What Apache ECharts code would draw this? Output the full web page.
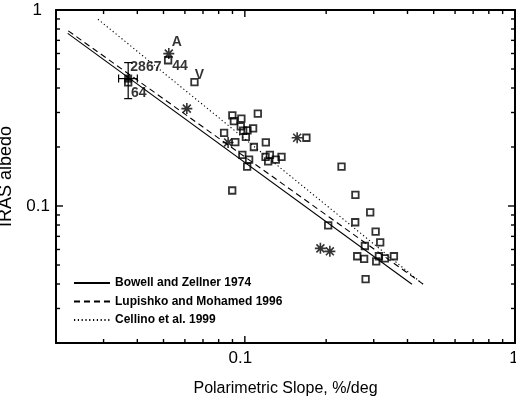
<!DOCTYPE html>
<html>
<head>
<meta charset="utf-8">
<script src="https://cdn.jsdelivr.net/npm/echarts@6/dist/echarts.min.js"></script>
<style>
html,body{margin:0;padding:0;background:#fff;}
#chart{width:516px;height:398px;}
</style>
</head>
<body>
<div id="chart"></div>
<script>
// ---- data ----
const axisMin = 0.02, axisMax = 1;
const xLabelValues = [0.1, 1];
const yLabelValues = [0.1, 1];
const xMajorTicks = [0.1, 1];
const xMinorTicks = [0.03,0.04,0.05,0.06,0.07,0.08,0.09,0.2,0.3,0.4,0.5,0.6,0.7,0.8,0.9];
const yMajorTicks = [0.1, 1];
const yMinorTicks = [0.03,0.04,0.05,0.06,0.07,0.08,0.09,0.2,0.3,0.4,0.5,0.6,0.7,0.8,0.9];

// open squares (unlabelled)
const squareX = [0.0899,0.0911,0.0971,0.1117,0.0838,0.0966,0.0986,0.1023,0.1073,0.1009,
                 0.0922,0.108,0.1196,0.0979,0.1037,0.102,0.1193,0.1238,0.122,0.1302,
                 0.1367,0.169,0.0898,0.228,0.2566,0.2911,0.2035,0.2562,0.3049,0.317,
                 0.2782,0.2606,0.2764,0.3064,0.3135,0.33,0.3563,0.2799];
const squareY = [0.290,0.271,0.279,0.296,0.236,0.255,0.242,0.243,0.249,0.225,
                 0.212,0.200,0.211,0.1825,0.1725,0.159,0.178,0.1825,0.169,0.1725,
                 0.178,0.223,0.120,0.159,0.114,0.0928,0.0797,0.0826,0.074,0.0653,
                 0.0625,0.0554,0.0537,0.0522,0.0554,0.0541,0.0554,0.0424];

// labelled open squares
const labSquareNames = ['44', 'V', '64'];
const labSquareX = [0.052, 0.0651, 0.037];
const labSquareY = [0.554, 0.429, 0.4276];

// asterisks
const starNames = ['A', '', '', '', '', ''];
const starX = [0.0523, 0.061, 0.0867, 0.1562, 0.1904, 0.2064];
const starY = [0.599, 0.314, 0.211, 0.223, 0.0608, 0.0587];

// 2867 with error bars
const pointName = '2867';
const pointX = 0.037, pointY = 0.4467;
const pointXErr = [0.0341, 0.0400];
const pointYErr = [0.353, 0.539];

// fitted relations (end points)
const fitNames = ['Bowell and Zellner 1974', 'Lupishko and Mohamed 1996', 'Cellino et al. 1999'];
const fitX = [[0.0221, 0.4155], [0.0222, 0.4574], [0.0286, 0.457]];
const fitY = [[0.760, 0.0399], [0.783, 0.0399], [0.897, 0.0399]];
const fitDash = ['solid', [6, 4], [1.2, 2.6]];

// ---- chart ----
const FONT = 'Liberation Sans, Arial, Helvetica, sans-serif';

function ax(pos) {
  return {
    type: 'log', logBase: 10, min: axisMin, max: axisMax, position: pos,
    axisLine: {show: true, onZero: false, lineStyle: {color: '#000', width: 2}},
    axisTick: {show: false},
    axisLabel: {show: false},
    splitLine: {show: false}
  };
}

const xLab = ax('bottom');
xLab.axisLabel = {show: true, customValues: xLabelValues, margin: 7,
  color: '#000', fontFamily: FONT, fontSize: 17,
  formatter: v => (Math.abs(v - 1) < 1e-9 ? '{one|1}' : '{tenth|0.1}'),
  rich: {one: {fontFamily: FONT, fontSize: 17, color: '#000', padding: [0, 2, 0, 0]},
         tenth: {fontFamily: FONT, fontSize: 17, color: '#000', padding: [0, 9, 0, 0]}}};
xLab.name = 'Polarimetric Slope, %/deg';
xLab.nameLocation = 'middle';
xLab.nameGap = 38;
xLab.nameTextStyle = {color: '#000', fontFamily: FONT, fontSize: 16};

const yLab = ax('left');
yLab.axisLabel = {show: true, customValues: yLabelValues, margin: 6,
  color: '#000', fontFamily: FONT, fontSize: 17,
  formatter: v => (Math.abs(v - 1) < 1e-9 ? '{one|1}' : '{tenth|0.1}'),
  rich: {one: {fontFamily: FONT, fontSize: 17, color: '#000', padding: [0, 8, 0, 0]},
         tenth: {fontFamily: FONT, fontSize: 17, color: '#000'}}};
yLab.name = 'IRAS albedo';
yLab.nameLocation = 'middle';
yLab.nameGap = 37;
yLab.nameTextStyle = {color: '#000', fontFamily: FONT, fontSize: 18};

const series = [];
fitNames.forEach((n, i) => {
  series.push({
    name: n, type: 'line', symbol: 'none', silent: true,
    data: fitX[i].map((x, j) => [x, fitY[i][j]]),
    lineStyle: {color: '#000', width: 1.1, type: fitDash[i]},
    itemStyle: {color: '#000'}
  });
});

const labelStyle = {color: '#000', fontFamily: FONT, fontSize: 14, fontWeight: 'bold', position: 'inside'};

series.push({
  type: 'scatter', symbol: 'rect', symbolSize: 6.5,
  itemStyle: {color: 'rgba(0,0,0,0)', borderColor: '#000', borderWidth: 1.8},
  data: squareX.map((x, i) => [x, squareY[i]])
});

const labSqOffsets = [[12, 6], [5, -6.5], [10.5, 11]];
series.push({
  type: 'scatter', symbol: 'rect', symbolSize: 6.5,
  itemStyle: {color: 'rgba(0,0,0,0)', borderColor: '#000', borderWidth: 1.8},
  data: labSquareX.map((x, i) => ({
    value: [x, labSquareY[i]],
    label: Object.assign({show: true, formatter: labSquareNames[i], offset: labSqOffsets[i]}, labelStyle)
  }))
});

const starPath = 'path://M0,-5L0,5M-5,0L5,0M-3.6,-3.6L3.6,3.6M-3.6,3.6L3.6,-3.6';
series.push({
  type: 'scatter', symbol: starPath, symbolSize: 11,
  itemStyle: {color: 'rgba(0,0,0,0)', borderColor: '#000', borderWidth: 1.6},
  data: starX.map((x, i) => ({
    value: [x, starY[i]],
    label: Object.assign({show: !!starNames[i], formatter: starNames[i], offset: [8, -11]}, labelStyle)
  }))
});

// error bars
series.push({
  type: 'custom', silent: true,
  data: [[pointX, pointY, pointXErr[0], pointXErr[1], pointYErr[0], pointYErr[1]]],
  encode: {x: 0, y: 1},
  renderItem: function (params, api) {
    const l = api.coord([api.value(2), api.value(1)]);
    const r = api.coord([api.value(3), api.value(1)]);
    const b = api.coord([api.value(0), api.value(4)]);
    const t = api.coord([api.value(0), api.value(5)]);
    const cap = 4;
    const st = {stroke: '#000', lineWidth: 1.2, fill: null};
    const ln = (x1, y1, x2, y2) => ({type: 'line', shape: {x1, y1, x2, y2}, style: st});
    return {type: 'group', children: [
      ln(l[0], l[1], r[0], r[1]),
      ln(l[0], l[1] - cap, l[0], l[1] + cap),
      ln(r[0], r[1] - cap, r[0], r[1] + cap),
      ln(b[0], b[1], t[0], t[1]),
      ln(b[0] - cap, b[1], b[0] + cap, b[1]),
      ln(t[0] - cap, t[1], t[0] + cap, t[1])
    ]};
  }
});

series.push({
  type: 'scatter', symbol: 'rect', symbolSize: 8,
  itemStyle: {color: '#000'},
  data: [{value: [pointX, pointY],
          label: Object.assign({show: true, formatter: pointName, offset: [17.7, -11.6]}, labelStyle)}]
});

// inward axis ticks on all four sides, positioned through the axes' own scales
const tickLen = major => (major ? 7 : 4);
const tickSt = {stroke: '#000', lineWidth: 1.4, fill: null};
series.push({
  type: 'custom', silent: true,
  data: xMajorTicks.map(v => [v, 0.1, 1]).concat(xMinorTicks.map(v => [v, 0.1, 0])),
  encode: {x: 0, y: 1},
  renderItem: function (params, api) {
    const cs = params.coordSys;
    const px = api.coord([api.value(0), api.value(1)])[0];
    const len = tickLen(api.value(2));
    const yb = cs.y + cs.height, yt = cs.y;
    return {type: 'group', children: [
      {type: 'line', shape: {x1: px, y1: yb, x2: px, y2: yb - len}, style: tickSt},
      {type: 'line', shape: {x1: px, y1: yt, x2: px, y2: yt + len}, style: tickSt}
    ]};
  }
});
series.push({
  type: 'custom', silent: true,
  data: yMajorTicks.map(v => [0.1, v, 1]).concat(yMinorTicks.map(v => [0.1, v, 0])),
  encode: {x: 0, y: 1},
  renderItem: function (params, api) {
    const cs = params.coordSys;
    const py = api.coord([api.value(0), api.value(1)])[1];
    const len = tickLen(api.value(2));
    const xl = cs.x, xr = cs.x + cs.width;
    return {type: 'group', children: [
      {type: 'line', shape: {x1: xl, y1: py, x2: xl + len, y2: py}, style: tickSt},
      {type: 'line', shape: {x1: xr, y1: py, x2: xr - len, y2: py}, style: tickSt}
    ]};
  }
});

const option = {
  animation: false,
  backgroundColor: '#fff',
  grid: {left: 56, right: 1, top: 10, bottom: 55, outerBoundsMode: 'none'},
  xAxis: [xLab, ax('top')],
  yAxis: [yLab, ax('right')],
  legend: {
    orient: 'vertical', left: 68, top: 272,
    itemWidth: 36, itemHeight: 14, itemGap: 6.5,
    data: fitNames,
    itemStyle: {opacity: 0},
    textStyle: {color: '#000', fontFamily: FONT, fontSize: 12, fontWeight: 'bold'},
    selectedMode: false
  },
  series: series
};

const chart = echarts.init(document.getElementById('chart'));
chart.setOption(option);
</script>
</body>
</html>
